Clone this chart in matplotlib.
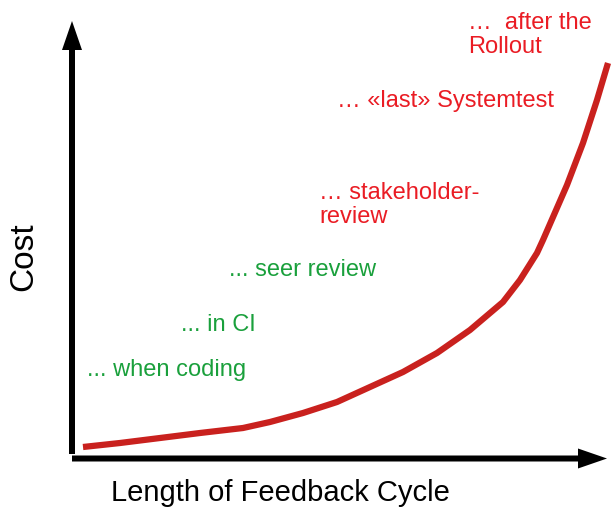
import matplotlib.pyplot as plt
from matplotlib.patches import FancyArrow

plt.rcParams["font.family"] = ["Liberation Sans", "DejaVu Sans"]

# cost curve (origin at the axes corner)
cycle_length = [11, 48, 88, 128, 171, 198, 231, 265, 298, 331, 365, 398, 431, 448, 465, 471, 495, 511, 525, 536]
cost = [12, 16, 21, 26, 31, 37, 46, 57, 72, 87, 106, 129, 157, 179, 206, 219, 274, 316, 359, 396]

# where a defect is found
green_labels = ["... when coding", "... in CI", "... seer review"]
red_labels = ["… stakeholder-\nreview", "… «last» Systemtest", "…  after the\nRollout"]

GREEN = "#1aa03c"
RED = "#ea1c24"
CURVE = "#c9211e"


def main():
    fig = plt.figure(figsize=(6.11, 5.12), dpi=100)
    ax = fig.add_axes([0, 0, 1, 1])
    # 1 data unit = 1 pixel, origin at the corner of the arrows
    ax.set_xlim(-72, 539)
    ax.set_ylim(-53, 459)
    ax.axis("off")

    # axes arrows
    ax.add_patch(FancyArrow(0, 5, 0, 433, width=6, head_width=20, head_length=29,
                            length_includes_head=True, color="black", lw=0))
    ax.add_patch(FancyArrow(0, 0.5, 535, 0, width=6, head_width=20, head_length=29,
                            length_includes_head=True, color="black", lw=0))

    ax.plot(cycle_length, cost, color=CURVE, lw=4.5, solid_capstyle="butt",
            solid_joinstyle="round")

    # labels
    green_pos = [(15, 83), (109, 128), (157, 183)]
    red_pos = [(247, 236), (265, 352), (396, 406)]
    for txt, (x, y) in zip(green_labels, green_pos):
        ax.text(x, y, txt, color=GREEN, fontsize=17, va="baseline", ha="left")
    for txt, (x, y) in zip(red_labels, red_pos):
        ax.text(x, y, txt, color=RED, fontsize=17, va="baseline", ha="left",
                linespacing=1.09)

    ax.text(208, -42, "Length of Feedback Cycle", fontsize=21, ha="center",
            va="baseline", color="black")
    ax.text(-48, 202, "Cost", fontsize=24, rotation=90, ha="center",
            va="center", color="black")

    fig.savefig("out.png", dpi=100)


if __name__ == "__main__":
    main()
